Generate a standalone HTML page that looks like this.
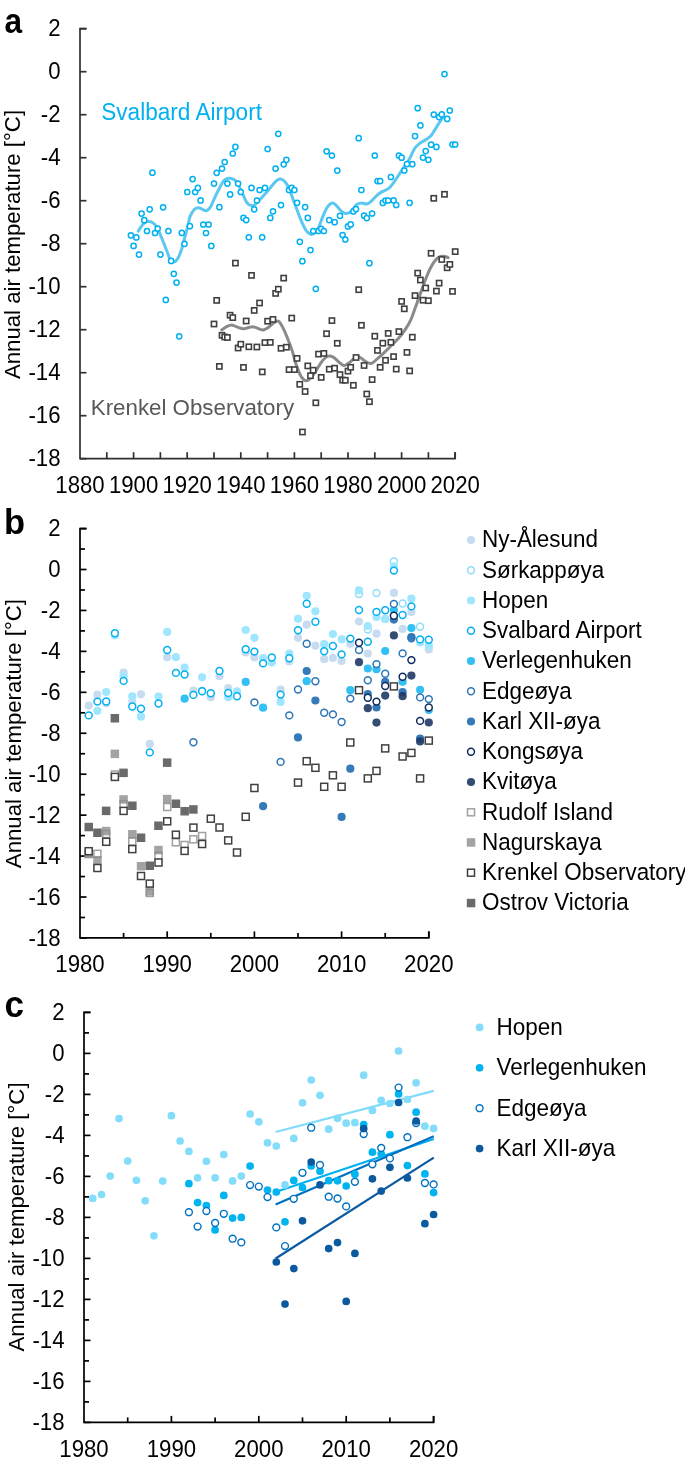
<!DOCTYPE html>
<html><head><meta charset="utf-8"><style>
html,body{margin:0;padding:0;background:#fff;width:685px;height:1463px;overflow:hidden}
</style></head><body>
<svg width="685" height="1463" viewBox="0 0 685 1463" style="display:block;will-change:transform">
<g font-family='"Liberation Sans", sans-serif' font-size="22.2" fill="#000">
<text transform="translate(4.4 33) scale(0.93 1.05)" font-weight="bold" font-size="34">a</text>
<text transform="translate(4.1 533.8) scale(1 1.04)" font-weight="bold" font-size="34.5">b</text>
<text transform="translate(4.4 1017.4) scale(1 1.04)" font-weight="bold" font-size="35">c</text>
<text transform="translate(19.9 244.5) rotate(-90)" text-anchor="middle">Annual air temperature [°C]</text>
<text transform="translate(20.5 733.6) rotate(-90)" text-anchor="middle">Annual air temperature [°C]</text>
<text transform="translate(24.2 1217) rotate(-90)" text-anchor="middle">Annual air temperature [°C]</text>
<path d="M86.5 28.7H80V458.7H455V452.2" fill="none" stroke="#303030" stroke-width="1.7"/>
<path d="M80 28.70H86.5" stroke="#303030" stroke-width="1.7"/>
<text transform="translate(60.5 36.30) scale(1 1.065)" text-anchor="end">2</text>
<path d="M80 71.70H86.5" stroke="#303030" stroke-width="1.7"/>
<text transform="translate(60.5 79.30) scale(1 1.065)" text-anchor="end">0</text>
<path d="M80 114.70H86.5" stroke="#303030" stroke-width="1.7"/>
<text transform="translate(60.5 122.30) scale(1 1.065)" text-anchor="end">-2</text>
<path d="M80 157.70H86.5" stroke="#303030" stroke-width="1.7"/>
<text transform="translate(60.5 165.30) scale(1 1.065)" text-anchor="end">-4</text>
<path d="M80 200.70H86.5" stroke="#303030" stroke-width="1.7"/>
<text transform="translate(60.5 208.30) scale(1 1.065)" text-anchor="end">-6</text>
<path d="M80 243.70H86.5" stroke="#303030" stroke-width="1.7"/>
<text transform="translate(60.5 251.30) scale(1 1.065)" text-anchor="end">-8</text>
<path d="M80 286.70H86.5" stroke="#303030" stroke-width="1.7"/>
<text transform="translate(60.5 294.30) scale(1 1.065)" text-anchor="end">-10</text>
<path d="M80 329.70H86.5" stroke="#303030" stroke-width="1.7"/>
<text transform="translate(60.5 337.30) scale(1 1.065)" text-anchor="end">-12</text>
<path d="M80 372.70H86.5" stroke="#303030" stroke-width="1.7"/>
<text transform="translate(60.5 380.30) scale(1 1.065)" text-anchor="end">-14</text>
<path d="M80 415.70H86.5" stroke="#303030" stroke-width="1.7"/>
<text transform="translate(60.5 423.30) scale(1 1.065)" text-anchor="end">-16</text>
<path d="M80 458.70H86.5" stroke="#303030" stroke-width="1.7"/>
<text transform="translate(60.5 466.30) scale(1 1.065)" text-anchor="end">-18</text>
<path d="M106.80 458.7V452.2" stroke="#303030" stroke-width="1.7"/>
<path d="M133.60 458.7V452.2" stroke="#303030" stroke-width="1.7"/>
<path d="M160.40 458.7V452.2" stroke="#303030" stroke-width="1.7"/>
<path d="M187.20 458.7V452.2" stroke="#303030" stroke-width="1.7"/>
<path d="M214.00 458.7V452.2" stroke="#303030" stroke-width="1.7"/>
<path d="M240.80 458.7V452.2" stroke="#303030" stroke-width="1.7"/>
<path d="M267.60 458.7V452.2" stroke="#303030" stroke-width="1.7"/>
<path d="M294.40 458.7V452.2" stroke="#303030" stroke-width="1.7"/>
<path d="M321.20 458.7V452.2" stroke="#303030" stroke-width="1.7"/>
<path d="M348.00 458.7V452.2" stroke="#303030" stroke-width="1.7"/>
<path d="M374.80 458.7V452.2" stroke="#303030" stroke-width="1.7"/>
<path d="M401.60 458.7V452.2" stroke="#303030" stroke-width="1.7"/>
<path d="M428.40 458.7V452.2" stroke="#303030" stroke-width="1.7"/>
<path d="M455.20 458.7V452.2" stroke="#303030" stroke-width="1.7"/>
<text transform="translate(80.00 493.4) scale(1 1.065)" text-anchor="middle">1880</text>
<text transform="translate(133.60 493.4) scale(1 1.065)" text-anchor="middle">1900</text>
<text transform="translate(187.20 493.4) scale(1 1.065)" text-anchor="middle">1920</text>
<text transform="translate(240.80 493.4) scale(1 1.065)" text-anchor="middle">1940</text>
<text transform="translate(294.40 493.4) scale(1 1.065)" text-anchor="middle">1960</text>
<text transform="translate(348.00 493.4) scale(1 1.065)" text-anchor="middle">1980</text>
<text transform="translate(401.60 493.4) scale(1 1.065)" text-anchor="middle">2000</text>
<text transform="translate(455.20 493.4) scale(1 1.065)" text-anchor="middle">2020</text>
<path d="M86.5 528.6H80V937.9H428.8V931.4" fill="none" stroke="#000" stroke-width="1.7"/>
<path d="M80 528.56H86.5" stroke="#000" stroke-width="1.7"/>
<text transform="translate(60.5 536.16) scale(1 1.065)" text-anchor="end">2</text>
<path d="M80 569.50H86.5" stroke="#000" stroke-width="1.7"/>
<text transform="translate(60.5 577.10) scale(1 1.065)" text-anchor="end">0</text>
<path d="M80 610.44H86.5" stroke="#000" stroke-width="1.7"/>
<text transform="translate(60.5 618.04) scale(1 1.065)" text-anchor="end">-2</text>
<path d="M80 651.38H86.5" stroke="#000" stroke-width="1.7"/>
<text transform="translate(60.5 658.98) scale(1 1.065)" text-anchor="end">-4</text>
<path d="M80 692.32H86.5" stroke="#000" stroke-width="1.7"/>
<text transform="translate(60.5 699.92) scale(1 1.065)" text-anchor="end">-6</text>
<path d="M80 733.26H86.5" stroke="#000" stroke-width="1.7"/>
<text transform="translate(60.5 740.86) scale(1 1.065)" text-anchor="end">-8</text>
<path d="M80 774.20H86.5" stroke="#000" stroke-width="1.7"/>
<text transform="translate(60.5 781.80) scale(1 1.065)" text-anchor="end">-10</text>
<path d="M80 815.14H86.5" stroke="#000" stroke-width="1.7"/>
<text transform="translate(60.5 822.74) scale(1 1.065)" text-anchor="end">-12</text>
<path d="M80 856.08H86.5" stroke="#000" stroke-width="1.7"/>
<text transform="translate(60.5 863.68) scale(1 1.065)" text-anchor="end">-14</text>
<path d="M80 897.02H86.5" stroke="#000" stroke-width="1.7"/>
<text transform="translate(60.5 904.62) scale(1 1.065)" text-anchor="end">-16</text>
<path d="M80 937.96H86.5" stroke="#000" stroke-width="1.7"/>
<text transform="translate(60.5 945.56) scale(1 1.065)" text-anchor="end">-18</text>
<path d="M80 549.03H85" stroke="#000" stroke-width="1.7"/>
<path d="M80 589.97H85" stroke="#000" stroke-width="1.7"/>
<path d="M80 630.91H85" stroke="#000" stroke-width="1.7"/>
<path d="M80 671.85H85" stroke="#000" stroke-width="1.7"/>
<path d="M80 712.79H85" stroke="#000" stroke-width="1.7"/>
<path d="M80 753.73H85" stroke="#000" stroke-width="1.7"/>
<path d="M80 794.67H85" stroke="#000" stroke-width="1.7"/>
<path d="M80 835.61H85" stroke="#000" stroke-width="1.7"/>
<path d="M80 876.55H85" stroke="#000" stroke-width="1.7"/>
<path d="M80 917.49H85" stroke="#000" stroke-width="1.7"/>
<path d="M167.20 937.9V931.4" stroke="#000" stroke-width="1.7"/>
<path d="M254.40 937.9V931.4" stroke="#000" stroke-width="1.7"/>
<path d="M341.60 937.9V931.4" stroke="#000" stroke-width="1.7"/>
<path d="M428.80 937.9V931.4" stroke="#000" stroke-width="1.7"/>
<path d="M123.60 937.9V932.9" stroke="#000" stroke-width="1.7"/>
<path d="M210.80 937.9V932.9" stroke="#000" stroke-width="1.7"/>
<path d="M298.00 937.9V932.9" stroke="#000" stroke-width="1.7"/>
<path d="M385.20 937.9V932.9" stroke="#000" stroke-width="1.7"/>
<text transform="translate(80.00 972.0) scale(1 1.065)" text-anchor="middle">1980</text>
<text transform="translate(167.20 972.0) scale(1 1.065)" text-anchor="middle">1990</text>
<text transform="translate(254.40 972.0) scale(1 1.065)" text-anchor="middle">2000</text>
<text transform="translate(341.60 972.0) scale(1 1.065)" text-anchor="middle">2010</text>
<text transform="translate(428.80 972.0) scale(1 1.065)" text-anchor="middle">2020</text>
<path d="M90.5 1012.4H84V1422.4H433.6V1415.9" fill="none" stroke="#000" stroke-width="1.7"/>
<path d="M84 1012.40H90.5" stroke="#000" stroke-width="1.7"/>
<text transform="translate(64.5 1020.00) scale(1 1.065)" text-anchor="end">2</text>
<path d="M84 1053.40H90.5" stroke="#000" stroke-width="1.7"/>
<text transform="translate(64.5 1061.00) scale(1 1.065)" text-anchor="end">0</text>
<path d="M84 1094.40H90.5" stroke="#000" stroke-width="1.7"/>
<text transform="translate(64.5 1102.00) scale(1 1.065)" text-anchor="end">-2</text>
<path d="M84 1135.40H90.5" stroke="#000" stroke-width="1.7"/>
<text transform="translate(64.5 1143.00) scale(1 1.065)" text-anchor="end">-4</text>
<path d="M84 1176.40H90.5" stroke="#000" stroke-width="1.7"/>
<text transform="translate(64.5 1184.00) scale(1 1.065)" text-anchor="end">-6</text>
<path d="M84 1217.40H90.5" stroke="#000" stroke-width="1.7"/>
<text transform="translate(64.5 1225.00) scale(1 1.065)" text-anchor="end">-8</text>
<path d="M84 1258.40H90.5" stroke="#000" stroke-width="1.7"/>
<text transform="translate(64.5 1266.00) scale(1 1.065)" text-anchor="end">-10</text>
<path d="M84 1299.40H90.5" stroke="#000" stroke-width="1.7"/>
<text transform="translate(64.5 1307.00) scale(1 1.065)" text-anchor="end">-12</text>
<path d="M84 1340.40H90.5" stroke="#000" stroke-width="1.7"/>
<text transform="translate(64.5 1348.00) scale(1 1.065)" text-anchor="end">-14</text>
<path d="M84 1381.40H90.5" stroke="#000" stroke-width="1.7"/>
<text transform="translate(64.5 1389.00) scale(1 1.065)" text-anchor="end">-16</text>
<path d="M84 1422.40H90.5" stroke="#000" stroke-width="1.7"/>
<text transform="translate(64.5 1430.00) scale(1 1.065)" text-anchor="end">-18</text>
<path d="M84 1032.90H89" stroke="#000" stroke-width="1.7"/>
<path d="M84 1073.90H89" stroke="#000" stroke-width="1.7"/>
<path d="M84 1114.90H89" stroke="#000" stroke-width="1.7"/>
<path d="M84 1155.90H89" stroke="#000" stroke-width="1.7"/>
<path d="M84 1196.90H89" stroke="#000" stroke-width="1.7"/>
<path d="M84 1237.90H89" stroke="#000" stroke-width="1.7"/>
<path d="M84 1278.90H89" stroke="#000" stroke-width="1.7"/>
<path d="M84 1319.90H89" stroke="#000" stroke-width="1.7"/>
<path d="M84 1360.90H89" stroke="#000" stroke-width="1.7"/>
<path d="M84 1401.90H89" stroke="#000" stroke-width="1.7"/>
<path d="M171.40 1422.4V1415.9" stroke="#000" stroke-width="1.7"/>
<path d="M258.80 1422.4V1415.9" stroke="#000" stroke-width="1.7"/>
<path d="M346.20 1422.4V1415.9" stroke="#000" stroke-width="1.7"/>
<path d="M433.60 1422.4V1415.9" stroke="#000" stroke-width="1.7"/>
<path d="M127.70 1422.4V1417.4" stroke="#000" stroke-width="1.7"/>
<path d="M215.10 1422.4V1417.4" stroke="#000" stroke-width="1.7"/>
<path d="M302.50 1422.4V1417.4" stroke="#000" stroke-width="1.7"/>
<path d="M389.90 1422.4V1417.4" stroke="#000" stroke-width="1.7"/>
<text transform="translate(84.00 1456.5) scale(1 1.065)" text-anchor="middle">1980</text>
<text transform="translate(171.40 1456.5) scale(1 1.065)" text-anchor="middle">1990</text>
<text transform="translate(258.80 1456.5) scale(1 1.065)" text-anchor="middle">2000</text>
<text transform="translate(346.20 1456.5) scale(1 1.065)" text-anchor="middle">2010</text>
<text transform="translate(433.60 1456.5) scale(1 1.065)" text-anchor="middle">2020</text>
<path d="M138.3 231.1C139.1 229.9 141.6 225.7 143.1 224.1C144.6 222.5 146.0 221.8 147.5 221.5C149.0 221.2 150.4 221.5 151.9 222.3C153.4 223.1 155.0 224.5 156.3 226.3C157.6 228.1 158.6 230.7 159.8 233.3C161.0 235.9 162.1 239.1 163.3 242.0C164.5 244.9 165.6 247.9 166.8 250.8C168.0 253.7 169.0 257.8 170.3 259.6C171.6 261.4 173.4 262.0 174.7 261.7C176.0 261.4 177.0 259.9 178.2 257.8C179.4 255.7 180.6 252.3 181.7 249.0C182.8 245.7 183.7 241.5 184.7 237.7C185.7 233.9 186.9 229.8 187.8 226.3C188.7 222.8 188.9 219.4 190.0 216.6C191.1 213.8 193.1 210.8 194.5 209.3C195.9 207.8 197.1 207.8 198.4 207.8C199.7 207.8 201.0 208.8 202.3 209.3C203.6 209.8 205.0 211.0 206.3 210.7C207.6 210.4 208.9 209.4 210.2 207.4C211.5 205.4 212.7 202.0 214.2 198.8C215.7 195.6 217.9 191.2 219.4 188.3C220.9 185.4 222.1 182.7 223.4 181.1C224.7 179.5 226.0 178.9 227.3 178.5C228.6 178.1 229.9 178.2 231.2 178.5C232.5 178.8 233.9 179.1 235.2 180.4C236.5 181.7 237.8 184.0 239.1 186.4C240.4 188.8 241.8 192.2 243.1 194.9C244.4 197.6 245.7 201.1 247.0 202.8C248.3 204.6 249.7 205.1 251.0 205.4C252.3 205.7 253.6 205.5 254.9 204.7C256.2 203.9 257.3 202.4 258.8 200.8C260.3 199.2 262.7 196.4 264.1 194.9C265.5 193.4 265.9 193.2 267.3 191.6C268.7 189.9 270.9 186.9 272.5 185.0C274.1 183.1 275.7 181.2 277.1 180.2C278.5 179.2 279.8 178.8 281.1 179.1C282.4 179.4 283.7 180.3 285.0 181.8C286.3 183.3 287.6 185.5 288.9 188.3C290.2 191.1 291.6 195.3 292.9 198.8C294.2 202.3 295.4 205.6 296.8 209.3C298.2 213.0 299.9 217.7 301.4 221.2C302.9 224.7 304.5 228.2 306.0 230.4C307.5 232.6 309.2 233.9 310.6 234.3C312.0 234.7 313.3 234.1 314.6 233.0C315.9 231.9 317.1 230.5 318.5 227.7C319.9 224.8 321.6 219.4 323.1 215.9C324.6 212.4 326.2 208.8 327.7 206.7C329.2 204.5 330.9 203.2 332.3 203.0C333.7 202.8 334.8 204.1 336.2 205.4C337.6 206.7 339.3 209.3 340.8 210.7C342.3 212.0 344.0 213.2 345.4 213.5C346.8 213.8 348.3 213.1 349.4 212.6C350.5 212.1 350.8 212.1 352.0 210.7C353.2 209.3 355.2 205.7 356.8 204.4C358.4 203.1 359.8 203.2 361.4 203.1C363.0 203.0 365.0 204.3 366.7 204.0C368.4 203.7 369.7 202.5 371.3 201.1C372.9 199.7 374.8 197.3 376.5 195.8C378.2 194.3 379.8 193.1 381.8 191.9C383.8 190.7 386.4 190.1 388.4 188.6C390.4 187.1 391.9 185.0 393.6 182.7C395.4 180.4 397.1 177.4 398.9 174.8C400.6 172.2 402.4 169.5 404.1 166.9C405.9 164.3 407.6 162.2 409.4 159.1C411.1 156.0 412.9 151.1 414.6 148.5C416.4 145.9 417.9 144.8 419.9 143.3C421.9 141.8 424.7 140.5 426.5 139.3C428.3 138.1 429.3 137.7 430.7 136.1C432.1 134.5 433.4 132.0 434.8 129.9C436.2 127.8 437.6 125.2 438.9 123.3C440.2 121.3 441.9 119.0 442.5 118.2" fill="none" stroke="#5CC8F0" stroke-width="3" stroke-linecap="round"/>
<path d="M221.7 329.9C222.5 329.4 224.7 327.7 226.3 326.9C227.9 326.1 229.8 324.9 231.5 324.9C233.2 324.9 234.8 326.2 236.8 326.9C238.8 327.5 241.4 328.7 243.4 328.8C245.4 328.9 246.8 327.8 248.6 327.5C250.3 327.2 252.2 326.7 253.9 326.9C255.7 327.1 257.6 328.3 259.1 328.8C260.6 329.3 261.6 330.1 263.1 329.9C264.6 329.7 266.7 328.6 268.3 327.5C269.9 326.4 271.4 324.7 272.9 323.6C274.4 322.5 276.3 321.1 277.5 321.0C278.7 320.9 279.0 321.4 280.1 322.9C281.2 324.4 282.9 327.6 284.1 330.1C285.3 332.6 286.1 334.7 287.4 338.0C288.7 341.3 290.4 345.3 291.9 349.9C293.4 354.5 294.9 361.0 296.5 365.6C298.1 370.2 299.9 374.9 301.7 377.4C303.4 379.9 305.2 380.9 307.0 380.7C308.8 380.5 310.4 378.2 312.2 376.1C313.9 374.0 315.8 370.8 317.5 368.2C319.2 365.6 320.9 362.4 322.7 360.4C324.4 358.4 326.2 356.8 328.0 356.2C329.8 355.6 331.4 356.2 333.2 357.1C334.9 358.0 336.7 360.3 338.5 361.7C340.3 363.1 342.1 365.4 343.8 365.6C345.6 365.8 347.2 364.2 349.0 363.0C350.8 361.8 352.6 359.4 354.3 358.4C356.1 357.4 357.8 356.7 359.5 357.1C361.2 357.5 362.9 359.9 364.8 361.0C366.8 362.1 369.1 363.9 371.2 363.5C373.3 363.1 375.3 360.6 377.5 358.7C379.7 356.8 382.1 354.6 384.4 352.4C386.7 350.2 389.1 347.8 391.4 345.5C393.7 343.2 396.0 341.2 398.3 338.6C400.6 336.0 403.1 332.7 405.2 329.6C407.3 326.5 409.2 323.4 410.8 319.9C412.4 316.4 413.6 312.3 414.9 308.8C416.2 305.3 417.2 302.4 418.4 299.1C419.6 295.9 420.6 292.8 421.9 289.3C423.2 285.8 424.6 281.7 426.0 278.2C427.4 274.7 428.8 271.3 430.2 268.5C431.6 265.7 432.9 263.5 434.3 261.6C435.7 259.8 437.0 258.3 438.5 257.4C440.0 256.5 441.8 256.3 443.4 256.3C445.0 256.3 447.4 257.4 448.2 257.6" fill="none" stroke="#8A8A8A" stroke-width="3" stroke-linecap="round"/>
<circle cx="130.9" cy="235.3" r="2.6" fill="#fff" stroke="#00B0F0" stroke-width="1.5"/>
<circle cx="133.6" cy="245.9" r="2.6" fill="#fff" stroke="#00B0F0" stroke-width="1.5"/>
<circle cx="136.3" cy="237.4" r="2.6" fill="#fff" stroke="#00B0F0" stroke-width="1.5"/>
<circle cx="139.0" cy="254.6" r="2.6" fill="#fff" stroke="#00B0F0" stroke-width="1.5"/>
<circle cx="141.6" cy="213.6" r="2.6" fill="#fff" stroke="#00B0F0" stroke-width="1.5"/>
<circle cx="144.3" cy="220.2" r="2.6" fill="#fff" stroke="#00B0F0" stroke-width="1.5"/>
<circle cx="147.0" cy="231.0" r="2.6" fill="#fff" stroke="#00B0F0" stroke-width="1.5"/>
<circle cx="149.7" cy="209.3" r="2.6" fill="#fff" stroke="#00B0F0" stroke-width="1.5"/>
<circle cx="152.4" cy="172.7" r="2.6" fill="#fff" stroke="#00B0F0" stroke-width="1.5"/>
<circle cx="155.0" cy="233.0" r="2.6" fill="#fff" stroke="#00B0F0" stroke-width="1.5"/>
<circle cx="157.7" cy="228.6" r="2.6" fill="#fff" stroke="#00B0F0" stroke-width="1.5"/>
<circle cx="160.4" cy="254.6" r="2.6" fill="#fff" stroke="#00B0F0" stroke-width="1.5"/>
<circle cx="163.1" cy="207.3" r="2.6" fill="#fff" stroke="#00B0F0" stroke-width="1.5"/>
<circle cx="165.8" cy="299.9" r="2.6" fill="#fff" stroke="#00B0F0" stroke-width="1.5"/>
<circle cx="168.4" cy="231.0" r="2.6" fill="#fff" stroke="#00B0F0" stroke-width="1.5"/>
<circle cx="171.1" cy="260.9" r="2.6" fill="#fff" stroke="#00B0F0" stroke-width="1.5"/>
<circle cx="173.8" cy="273.8" r="2.6" fill="#fff" stroke="#00B0F0" stroke-width="1.5"/>
<circle cx="176.5" cy="282.5" r="2.6" fill="#fff" stroke="#00B0F0" stroke-width="1.5"/>
<circle cx="179.2" cy="336.3" r="2.6" fill="#fff" stroke="#00B0F0" stroke-width="1.5"/>
<circle cx="181.8" cy="232.9" r="2.6" fill="#fff" stroke="#00B0F0" stroke-width="1.5"/>
<circle cx="184.5" cy="243.8" r="2.6" fill="#fff" stroke="#00B0F0" stroke-width="1.5"/>
<circle cx="187.2" cy="192.0" r="2.6" fill="#fff" stroke="#00B0F0" stroke-width="1.5"/>
<circle cx="189.9" cy="226.2" r="2.6" fill="#fff" stroke="#00B0F0" stroke-width="1.5"/>
<circle cx="192.6" cy="179.1" r="2.6" fill="#fff" stroke="#00B0F0" stroke-width="1.5"/>
<circle cx="195.2" cy="192.0" r="2.6" fill="#fff" stroke="#00B0F0" stroke-width="1.5"/>
<circle cx="197.9" cy="187.9" r="2.6" fill="#fff" stroke="#00B0F0" stroke-width="1.5"/>
<circle cx="200.6" cy="200.4" r="2.6" fill="#fff" stroke="#00B0F0" stroke-width="1.5"/>
<circle cx="203.3" cy="224.5" r="2.6" fill="#fff" stroke="#00B0F0" stroke-width="1.5"/>
<circle cx="206.0" cy="233.0" r="2.6" fill="#fff" stroke="#00B0F0" stroke-width="1.5"/>
<circle cx="208.6" cy="224.5" r="2.6" fill="#fff" stroke="#00B0F0" stroke-width="1.5"/>
<circle cx="211.3" cy="245.9" r="2.6" fill="#fff" stroke="#00B0F0" stroke-width="1.5"/>
<circle cx="214.0" cy="183.6" r="2.6" fill="#fff" stroke="#00B0F0" stroke-width="1.5"/>
<circle cx="216.7" cy="172.8" r="2.6" fill="#fff" stroke="#00B0F0" stroke-width="1.5"/>
<circle cx="219.4" cy="207.2" r="2.6" fill="#fff" stroke="#00B0F0" stroke-width="1.5"/>
<circle cx="222.0" cy="168.6" r="2.6" fill="#fff" stroke="#00B0F0" stroke-width="1.5"/>
<circle cx="224.7" cy="162.0" r="2.6" fill="#fff" stroke="#00B0F0" stroke-width="1.5"/>
<circle cx="227.4" cy="183.6" r="2.6" fill="#fff" stroke="#00B0F0" stroke-width="1.5"/>
<circle cx="230.1" cy="194.4" r="2.6" fill="#fff" stroke="#00B0F0" stroke-width="1.5"/>
<circle cx="232.8" cy="153.5" r="2.6" fill="#fff" stroke="#00B0F0" stroke-width="1.5"/>
<circle cx="235.4" cy="146.9" r="2.6" fill="#fff" stroke="#00B0F0" stroke-width="1.5"/>
<circle cx="238.1" cy="183.6" r="2.6" fill="#fff" stroke="#00B0F0" stroke-width="1.5"/>
<circle cx="240.8" cy="192.0" r="2.6" fill="#fff" stroke="#00B0F0" stroke-width="1.5"/>
<circle cx="243.5" cy="217.9" r="2.6" fill="#fff" stroke="#00B0F0" stroke-width="1.5"/>
<circle cx="246.2" cy="220.1" r="2.6" fill="#fff" stroke="#00B0F0" stroke-width="1.5"/>
<circle cx="248.8" cy="237.3" r="2.6" fill="#fff" stroke="#00B0F0" stroke-width="1.5"/>
<circle cx="251.5" cy="187.9" r="2.6" fill="#fff" stroke="#00B0F0" stroke-width="1.5"/>
<circle cx="254.2" cy="209.3" r="2.6" fill="#fff" stroke="#00B0F0" stroke-width="1.5"/>
<circle cx="256.9" cy="200.5" r="2.6" fill="#fff" stroke="#00B0F0" stroke-width="1.5"/>
<circle cx="259.6" cy="190.0" r="2.6" fill="#fff" stroke="#00B0F0" stroke-width="1.5"/>
<circle cx="262.2" cy="237.3" r="2.6" fill="#fff" stroke="#00B0F0" stroke-width="1.5"/>
<circle cx="264.9" cy="187.9" r="2.6" fill="#fff" stroke="#00B0F0" stroke-width="1.5"/>
<circle cx="267.6" cy="149.0" r="2.6" fill="#fff" stroke="#00B0F0" stroke-width="1.5"/>
<circle cx="270.3" cy="217.9" r="2.6" fill="#fff" stroke="#00B0F0" stroke-width="1.5"/>
<circle cx="273.0" cy="211.3" r="2.6" fill="#fff" stroke="#00B0F0" stroke-width="1.5"/>
<circle cx="275.6" cy="168.6" r="2.6" fill="#fff" stroke="#00B0F0" stroke-width="1.5"/>
<circle cx="278.3" cy="133.8" r="2.6" fill="#fff" stroke="#00B0F0" stroke-width="1.5"/>
<circle cx="281.0" cy="205.1" r="2.6" fill="#fff" stroke="#00B0F0" stroke-width="1.5"/>
<circle cx="283.7" cy="164.3" r="2.6" fill="#fff" stroke="#00B0F0" stroke-width="1.5"/>
<circle cx="286.4" cy="159.8" r="2.6" fill="#fff" stroke="#00B0F0" stroke-width="1.5"/>
<circle cx="289.0" cy="190.0" r="2.6" fill="#fff" stroke="#00B0F0" stroke-width="1.5"/>
<circle cx="291.7" cy="187.9" r="2.6" fill="#fff" stroke="#00B0F0" stroke-width="1.5"/>
<circle cx="294.4" cy="190.0" r="2.6" fill="#fff" stroke="#00B0F0" stroke-width="1.5"/>
<circle cx="297.1" cy="202.8" r="2.6" fill="#fff" stroke="#00B0F0" stroke-width="1.5"/>
<circle cx="299.8" cy="241.8" r="2.6" fill="#fff" stroke="#00B0F0" stroke-width="1.5"/>
<circle cx="302.4" cy="261.2" r="2.6" fill="#fff" stroke="#00B0F0" stroke-width="1.5"/>
<circle cx="305.1" cy="207.1" r="2.6" fill="#fff" stroke="#00B0F0" stroke-width="1.5"/>
<circle cx="307.8" cy="217.9" r="2.6" fill="#fff" stroke="#00B0F0" stroke-width="1.5"/>
<circle cx="310.5" cy="250.1" r="2.6" fill="#fff" stroke="#00B0F0" stroke-width="1.5"/>
<circle cx="313.2" cy="231.0" r="2.6" fill="#fff" stroke="#00B0F0" stroke-width="1.5"/>
<circle cx="315.8" cy="288.8" r="2.6" fill="#fff" stroke="#00B0F0" stroke-width="1.5"/>
<circle cx="318.5" cy="231.0" r="2.6" fill="#fff" stroke="#00B0F0" stroke-width="1.5"/>
<circle cx="321.2" cy="228.8" r="2.6" fill="#fff" stroke="#00B0F0" stroke-width="1.5"/>
<circle cx="323.9" cy="231.0" r="2.6" fill="#fff" stroke="#00B0F0" stroke-width="1.5"/>
<circle cx="326.6" cy="151.3" r="2.6" fill="#fff" stroke="#00B0F0" stroke-width="1.5"/>
<circle cx="329.2" cy="220.1" r="2.6" fill="#fff" stroke="#00B0F0" stroke-width="1.5"/>
<circle cx="331.9" cy="155.5" r="2.6" fill="#fff" stroke="#00B0F0" stroke-width="1.5"/>
<circle cx="334.6" cy="222.2" r="2.6" fill="#fff" stroke="#00B0F0" stroke-width="1.5"/>
<circle cx="337.3" cy="170.6" r="2.6" fill="#fff" stroke="#00B0F0" stroke-width="1.5"/>
<circle cx="340.0" cy="215.8" r="2.6" fill="#fff" stroke="#00B0F0" stroke-width="1.5"/>
<circle cx="342.6" cy="235.0" r="2.6" fill="#fff" stroke="#00B0F0" stroke-width="1.5"/>
<circle cx="345.3" cy="239.5" r="2.6" fill="#fff" stroke="#00B0F0" stroke-width="1.5"/>
<circle cx="348.0" cy="226.4" r="2.6" fill="#fff" stroke="#00B0F0" stroke-width="1.5"/>
<circle cx="350.7" cy="224.4" r="2.6" fill="#fff" stroke="#00B0F0" stroke-width="1.5"/>
<circle cx="353.4" cy="211.4" r="2.6" fill="#fff" stroke="#00B0F0" stroke-width="1.5"/>
<circle cx="356.0" cy="209.1" r="2.6" fill="#fff" stroke="#00B0F0" stroke-width="1.5"/>
<circle cx="358.7" cy="138.2" r="2.6" fill="#fff" stroke="#00B0F0" stroke-width="1.5"/>
<circle cx="361.4" cy="190.0" r="2.6" fill="#fff" stroke="#00B0F0" stroke-width="1.5"/>
<circle cx="364.1" cy="215.7" r="2.6" fill="#fff" stroke="#00B0F0" stroke-width="1.5"/>
<circle cx="366.8" cy="218.1" r="2.6" fill="#fff" stroke="#00B0F0" stroke-width="1.5"/>
<circle cx="369.4" cy="263.2" r="2.6" fill="#fff" stroke="#00B0F0" stroke-width="1.5"/>
<circle cx="372.1" cy="213.5" r="2.6" fill="#fff" stroke="#00B0F0" stroke-width="1.5"/>
<circle cx="374.8" cy="155.5" r="2.6" fill="#fff" stroke="#00B0F0" stroke-width="1.5"/>
<circle cx="377.5" cy="181.1" r="2.6" fill="#fff" stroke="#00B0F0" stroke-width="1.5"/>
<circle cx="380.2" cy="181.1" r="2.6" fill="#fff" stroke="#00B0F0" stroke-width="1.5"/>
<circle cx="382.8" cy="202.9" r="2.6" fill="#fff" stroke="#00B0F0" stroke-width="1.5"/>
<circle cx="385.5" cy="200.5" r="2.6" fill="#fff" stroke="#00B0F0" stroke-width="1.5"/>
<circle cx="388.2" cy="200.5" r="2.6" fill="#fff" stroke="#00B0F0" stroke-width="1.5"/>
<circle cx="390.9" cy="177.0" r="2.6" fill="#fff" stroke="#00B0F0" stroke-width="1.5"/>
<circle cx="393.6" cy="200.4" r="2.6" fill="#fff" stroke="#00B0F0" stroke-width="1.5"/>
<circle cx="396.2" cy="205.0" r="2.6" fill="#fff" stroke="#00B0F0" stroke-width="1.5"/>
<circle cx="398.9" cy="155.5" r="2.6" fill="#fff" stroke="#00B0F0" stroke-width="1.5"/>
<circle cx="401.6" cy="157.7" r="2.6" fill="#fff" stroke="#00B0F0" stroke-width="1.5"/>
<circle cx="404.3" cy="170.5" r="2.6" fill="#fff" stroke="#00B0F0" stroke-width="1.5"/>
<circle cx="407.0" cy="164.1" r="2.6" fill="#fff" stroke="#00B0F0" stroke-width="1.5"/>
<circle cx="409.6" cy="202.8" r="2.6" fill="#fff" stroke="#00B0F0" stroke-width="1.5"/>
<circle cx="412.3" cy="164.2" r="2.6" fill="#fff" stroke="#00B0F0" stroke-width="1.5"/>
<circle cx="415.0" cy="136.1" r="2.6" fill="#fff" stroke="#00B0F0" stroke-width="1.5"/>
<circle cx="417.7" cy="108.2" r="2.6" fill="#fff" stroke="#00B0F0" stroke-width="1.5"/>
<circle cx="420.4" cy="125.4" r="2.6" fill="#fff" stroke="#00B0F0" stroke-width="1.5"/>
<circle cx="423.0" cy="157.6" r="2.6" fill="#fff" stroke="#00B0F0" stroke-width="1.5"/>
<circle cx="425.7" cy="151.1" r="2.6" fill="#fff" stroke="#00B0F0" stroke-width="1.5"/>
<circle cx="428.4" cy="159.8" r="2.6" fill="#fff" stroke="#00B0F0" stroke-width="1.5"/>
<circle cx="431.1" cy="144.7" r="2.6" fill="#fff" stroke="#00B0F0" stroke-width="1.5"/>
<circle cx="433.8" cy="114.6" r="2.6" fill="#fff" stroke="#00B0F0" stroke-width="1.5"/>
<circle cx="436.4" cy="146.9" r="2.6" fill="#fff" stroke="#00B0F0" stroke-width="1.5"/>
<circle cx="439.1" cy="117.1" r="2.6" fill="#fff" stroke="#00B0F0" stroke-width="1.5"/>
<circle cx="441.8" cy="114.4" r="2.6" fill="#fff" stroke="#00B0F0" stroke-width="1.5"/>
<circle cx="444.5" cy="74.1" r="2.6" fill="#fff" stroke="#00B0F0" stroke-width="1.5"/>
<circle cx="447.2" cy="118.9" r="2.6" fill="#fff" stroke="#00B0F0" stroke-width="1.5"/>
<circle cx="449.8" cy="110.5" r="2.6" fill="#fff" stroke="#00B0F0" stroke-width="1.5"/>
<circle cx="452.5" cy="144.5" r="2.6" fill="#fff" stroke="#00B0F0" stroke-width="1.5"/>
<circle cx="455.2" cy="144.5" r="2.6" fill="#fff" stroke="#00B0F0" stroke-width="1.5"/>
<rect x="211.40" y="321.40" width="5.2" height="5.2" fill="#fff" stroke="#404040" stroke-width="1.6"/>
<rect x="214.08" y="297.80" width="5.2" height="5.2" fill="#fff" stroke="#404040" stroke-width="1.6"/>
<rect x="216.76" y="363.80" width="5.2" height="5.2" fill="#fff" stroke="#404040" stroke-width="1.6"/>
<rect x="219.44" y="332.70" width="5.2" height="5.2" fill="#fff" stroke="#404040" stroke-width="1.6"/>
<rect x="222.12" y="334.40" width="5.2" height="5.2" fill="#fff" stroke="#404040" stroke-width="1.6"/>
<rect x="224.80" y="334.90" width="5.2" height="5.2" fill="#fff" stroke="#404040" stroke-width="1.6"/>
<rect x="227.48" y="312.60" width="5.2" height="5.2" fill="#fff" stroke="#404040" stroke-width="1.6"/>
<rect x="230.16" y="315.00" width="5.2" height="5.2" fill="#fff" stroke="#404040" stroke-width="1.6"/>
<rect x="232.84" y="260.50" width="5.2" height="5.2" fill="#fff" stroke="#404040" stroke-width="1.6"/>
<rect x="235.52" y="345.40" width="5.2" height="5.2" fill="#fff" stroke="#404040" stroke-width="1.6"/>
<rect x="238.20" y="341.60" width="5.2" height="5.2" fill="#fff" stroke="#404040" stroke-width="1.6"/>
<rect x="240.88" y="364.80" width="5.2" height="5.2" fill="#fff" stroke="#404040" stroke-width="1.6"/>
<rect x="243.56" y="318.40" width="5.2" height="5.2" fill="#fff" stroke="#404040" stroke-width="1.6"/>
<rect x="246.24" y="344.20" width="5.2" height="5.2" fill="#fff" stroke="#404040" stroke-width="1.6"/>
<rect x="248.92" y="272.80" width="5.2" height="5.2" fill="#fff" stroke="#404040" stroke-width="1.6"/>
<rect x="251.60" y="307.80" width="5.2" height="5.2" fill="#fff" stroke="#404040" stroke-width="1.6"/>
<rect x="254.28" y="344.40" width="5.2" height="5.2" fill="#fff" stroke="#404040" stroke-width="1.6"/>
<rect x="256.96" y="300.40" width="5.2" height="5.2" fill="#fff" stroke="#404040" stroke-width="1.6"/>
<rect x="259.64" y="369.30" width="5.2" height="5.2" fill="#fff" stroke="#404040" stroke-width="1.6"/>
<rect x="262.32" y="340.00" width="5.2" height="5.2" fill="#fff" stroke="#404040" stroke-width="1.6"/>
<rect x="265.00" y="318.60" width="5.2" height="5.2" fill="#fff" stroke="#404040" stroke-width="1.6"/>
<rect x="267.68" y="339.80" width="5.2" height="5.2" fill="#fff" stroke="#404040" stroke-width="1.6"/>
<rect x="270.36" y="316.80" width="5.2" height="5.2" fill="#fff" stroke="#404040" stroke-width="1.6"/>
<rect x="273.04" y="290.80" width="5.2" height="5.2" fill="#fff" stroke="#404040" stroke-width="1.6"/>
<rect x="275.72" y="286.60" width="5.2" height="5.2" fill="#fff" stroke="#404040" stroke-width="1.6"/>
<rect x="278.40" y="345.70" width="5.2" height="5.2" fill="#fff" stroke="#404040" stroke-width="1.6"/>
<rect x="281.08" y="275.50" width="5.2" height="5.2" fill="#fff" stroke="#404040" stroke-width="1.6"/>
<rect x="283.76" y="344.60" width="5.2" height="5.2" fill="#fff" stroke="#404040" stroke-width="1.6"/>
<rect x="286.44" y="367.00" width="5.2" height="5.2" fill="#fff" stroke="#404040" stroke-width="1.6"/>
<rect x="289.12" y="315.50" width="5.2" height="5.2" fill="#fff" stroke="#404040" stroke-width="1.6"/>
<rect x="291.80" y="367.00" width="5.2" height="5.2" fill="#fff" stroke="#404040" stroke-width="1.6"/>
<rect x="294.48" y="355.80" width="5.2" height="5.2" fill="#fff" stroke="#404040" stroke-width="1.6"/>
<rect x="297.16" y="381.70" width="5.2" height="5.2" fill="#fff" stroke="#404040" stroke-width="1.6"/>
<rect x="299.84" y="429.40" width="5.2" height="5.2" fill="#fff" stroke="#404040" stroke-width="1.6"/>
<rect x="302.52" y="388.90" width="5.2" height="5.2" fill="#fff" stroke="#404040" stroke-width="1.6"/>
<rect x="305.20" y="363.30" width="5.2" height="5.2" fill="#fff" stroke="#404040" stroke-width="1.6"/>
<rect x="307.88" y="373.10" width="5.2" height="5.2" fill="#fff" stroke="#404040" stroke-width="1.6"/>
<rect x="310.56" y="367.60" width="5.2" height="5.2" fill="#fff" stroke="#404040" stroke-width="1.6"/>
<rect x="313.24" y="400.20" width="5.2" height="5.2" fill="#fff" stroke="#404040" stroke-width="1.6"/>
<rect x="315.92" y="351.50" width="5.2" height="5.2" fill="#fff" stroke="#404040" stroke-width="1.6"/>
<rect x="318.60" y="374.80" width="5.2" height="5.2" fill="#fff" stroke="#404040" stroke-width="1.6"/>
<rect x="321.28" y="350.80" width="5.2" height="5.2" fill="#fff" stroke="#404040" stroke-width="1.6"/>
<rect x="323.96" y="331.10" width="5.2" height="5.2" fill="#fff" stroke="#404040" stroke-width="1.6"/>
<rect x="326.64" y="366.60" width="5.2" height="5.2" fill="#fff" stroke="#404040" stroke-width="1.6"/>
<rect x="329.32" y="318.00" width="5.2" height="5.2" fill="#fff" stroke="#404040" stroke-width="1.6"/>
<rect x="332.00" y="365.60" width="5.2" height="5.2" fill="#fff" stroke="#404040" stroke-width="1.6"/>
<rect x="334.68" y="340.70" width="5.2" height="5.2" fill="#fff" stroke="#404040" stroke-width="1.6"/>
<rect x="337.36" y="372.00" width="5.2" height="5.2" fill="#fff" stroke="#404040" stroke-width="1.6"/>
<rect x="340.04" y="377.50" width="5.2" height="5.2" fill="#fff" stroke="#404040" stroke-width="1.6"/>
<rect x="342.72" y="377.70" width="5.2" height="5.2" fill="#fff" stroke="#404040" stroke-width="1.6"/>
<rect x="345.40" y="368.50" width="5.2" height="5.2" fill="#fff" stroke="#404040" stroke-width="1.6"/>
<rect x="348.08" y="364.70" width="5.2" height="5.2" fill="#fff" stroke="#404040" stroke-width="1.6"/>
<rect x="350.76" y="382.70" width="5.2" height="5.2" fill="#fff" stroke="#404040" stroke-width="1.6"/>
<rect x="353.44" y="354.90" width="5.2" height="5.2" fill="#fff" stroke="#404040" stroke-width="1.6"/>
<rect x="356.12" y="287.10" width="5.2" height="5.2" fill="#fff" stroke="#404040" stroke-width="1.6"/>
<rect x="358.80" y="322.70" width="5.2" height="5.2" fill="#fff" stroke="#404040" stroke-width="1.6"/>
<rect x="361.48" y="362.90" width="5.2" height="5.2" fill="#fff" stroke="#404040" stroke-width="1.6"/>
<rect x="364.16" y="391.40" width="5.2" height="5.2" fill="#fff" stroke="#404040" stroke-width="1.6"/>
<rect x="366.84" y="399.10" width="5.2" height="5.2" fill="#fff" stroke="#404040" stroke-width="1.6"/>
<rect x="369.52" y="377.00" width="5.2" height="5.2" fill="#fff" stroke="#404040" stroke-width="1.6"/>
<rect x="372.20" y="333.60" width="5.2" height="5.2" fill="#fff" stroke="#404040" stroke-width="1.6"/>
<rect x="374.88" y="347.80" width="5.2" height="5.2" fill="#fff" stroke="#404040" stroke-width="1.6"/>
<rect x="377.56" y="364.70" width="5.2" height="5.2" fill="#fff" stroke="#404040" stroke-width="1.6"/>
<rect x="380.24" y="340.60" width="5.2" height="5.2" fill="#fff" stroke="#404040" stroke-width="1.6"/>
<rect x="382.92" y="357.70" width="5.2" height="5.2" fill="#fff" stroke="#404040" stroke-width="1.6"/>
<rect x="385.60" y="330.80" width="5.2" height="5.2" fill="#fff" stroke="#404040" stroke-width="1.6"/>
<rect x="388.28" y="339.70" width="5.2" height="5.2" fill="#fff" stroke="#404040" stroke-width="1.6"/>
<rect x="390.96" y="354.00" width="5.2" height="5.2" fill="#fff" stroke="#404040" stroke-width="1.6"/>
<rect x="393.64" y="366.50" width="5.2" height="5.2" fill="#fff" stroke="#404040" stroke-width="1.6"/>
<rect x="396.32" y="329.00" width="5.2" height="5.2" fill="#fff" stroke="#404040" stroke-width="1.6"/>
<rect x="399.00" y="298.80" width="5.2" height="5.2" fill="#fff" stroke="#404040" stroke-width="1.6"/>
<rect x="401.68" y="306.20" width="5.2" height="5.2" fill="#fff" stroke="#404040" stroke-width="1.6"/>
<rect x="404.36" y="349.80" width="5.2" height="5.2" fill="#fff" stroke="#404040" stroke-width="1.6"/>
<rect x="407.04" y="368.30" width="5.2" height="5.2" fill="#fff" stroke="#404040" stroke-width="1.6"/>
<rect x="409.72" y="334.60" width="5.2" height="5.2" fill="#fff" stroke="#404040" stroke-width="1.6"/>
<rect x="412.40" y="293.00" width="5.2" height="5.2" fill="#fff" stroke="#404040" stroke-width="1.6"/>
<rect x="415.08" y="270.50" width="5.2" height="5.2" fill="#fff" stroke="#404040" stroke-width="1.6"/>
<rect x="417.76" y="277.40" width="5.2" height="5.2" fill="#fff" stroke="#404040" stroke-width="1.6"/>
<rect x="420.44" y="297.60" width="5.2" height="5.2" fill="#fff" stroke="#404040" stroke-width="1.6"/>
<rect x="423.12" y="285.40" width="5.2" height="5.2" fill="#fff" stroke="#404040" stroke-width="1.6"/>
<rect x="425.80" y="298.10" width="5.2" height="5.2" fill="#fff" stroke="#404040" stroke-width="1.6"/>
<rect x="428.48" y="250.70" width="5.2" height="5.2" fill="#fff" stroke="#404040" stroke-width="1.6"/>
<rect x="431.16" y="195.70" width="5.2" height="5.2" fill="#fff" stroke="#404040" stroke-width="1.6"/>
<rect x="433.84" y="288.50" width="5.2" height="5.2" fill="#fff" stroke="#404040" stroke-width="1.6"/>
<rect x="436.52" y="280.50" width="5.2" height="5.2" fill="#fff" stroke="#404040" stroke-width="1.6"/>
<rect x="439.20" y="256.90" width="5.2" height="5.2" fill="#fff" stroke="#404040" stroke-width="1.6"/>
<rect x="441.88" y="191.70" width="5.2" height="5.2" fill="#fff" stroke="#404040" stroke-width="1.6"/>
<rect x="444.56" y="265.20" width="5.2" height="5.2" fill="#fff" stroke="#404040" stroke-width="1.6"/>
<rect x="447.24" y="261.80" width="5.2" height="5.2" fill="#fff" stroke="#404040" stroke-width="1.6"/>
<rect x="449.92" y="288.80" width="5.2" height="5.2" fill="#fff" stroke="#404040" stroke-width="1.6"/>
<rect x="452.60" y="249.00" width="5.2" height="5.2" fill="#fff" stroke="#404040" stroke-width="1.6"/>
<circle cx="88.7" cy="705.6" r="4.1" fill="#C7DCF0"/>
<circle cx="97.4" cy="694.7" r="4.1" fill="#C7DCF0"/>
<circle cx="106.2" cy="703.2" r="4.1" fill="#C7DCF0"/>
<circle cx="123.6" cy="672.6" r="4.1" fill="#C7DCF0"/>
<circle cx="132.3" cy="701.9" r="4.1" fill="#C7DCF0"/>
<circle cx="141.0" cy="694.3" r="4.1" fill="#C7DCF0"/>
<circle cx="149.8" cy="743.9" r="4.1" fill="#C7DCF0"/>
<circle cx="167.2" cy="657.2" r="4.1" fill="#C7DCF0"/>
<circle cx="193.4" cy="690.7" r="4.1" fill="#C7DCF0"/>
<circle cx="202.1" cy="690.5" r="4.1" fill="#C7DCF0"/>
<circle cx="210.8" cy="697.2" r="4.1" fill="#C7DCF0"/>
<circle cx="219.5" cy="676.2" r="4.1" fill="#C7DCF0"/>
<circle cx="228.2" cy="688.0" r="4.1" fill="#C7DCF0"/>
<circle cx="245.7" cy="652.5" r="4.1" fill="#C7DCF0"/>
<circle cx="254.4" cy="657.5" r="4.1" fill="#C7DCF0"/>
<circle cx="263.1" cy="663.0" r="4.1" fill="#C7DCF0"/>
<circle cx="280.6" cy="689.7" r="4.1" fill="#C7DCF0"/>
<circle cx="289.3" cy="661.5" r="4.1" fill="#C7DCF0"/>
<circle cx="298.0" cy="637.8" r="4.1" fill="#C7DCF0"/>
<circle cx="306.7" cy="624.7" r="4.1" fill="#C7DCF0"/>
<circle cx="315.4" cy="645.7" r="4.1" fill="#C7DCF0"/>
<circle cx="324.2" cy="659.2" r="4.1" fill="#C7DCF0"/>
<circle cx="332.9" cy="658.0" r="4.1" fill="#C7DCF0"/>
<circle cx="341.6" cy="661.0" r="4.1" fill="#C7DCF0"/>
<circle cx="350.3" cy="643.7" r="4.1" fill="#C7DCF0"/>
<circle cx="359.0" cy="621.6" r="4.1" fill="#C7DCF0"/>
<circle cx="367.8" cy="653.5" r="4.1" fill="#C7DCF0"/>
<circle cx="376.5" cy="633.7" r="4.1" fill="#C7DCF0"/>
<circle cx="385.2" cy="619.0" r="4.1" fill="#C7DCF0"/>
<circle cx="393.9" cy="592.9" r="4.1" fill="#C7DCF0"/>
<circle cx="402.6" cy="628.9" r="4.1" fill="#C7DCF0"/>
<circle cx="411.4" cy="612.1" r="4.1" fill="#C7DCF0"/>
<circle cx="428.8" cy="649.4" r="4.1" fill="#C7DCF0"/>
<circle cx="359.0" cy="594.0" r="3.45" fill="#fff" stroke="#8EDDFA" stroke-width="1.5"/>
<circle cx="367.8" cy="629.6" r="3.45" fill="#fff" stroke="#8EDDFA" stroke-width="1.5"/>
<circle cx="376.5" cy="593.0" r="3.45" fill="#fff" stroke="#8EDDFA" stroke-width="1.5"/>
<circle cx="393.9" cy="561.5" r="3.45" fill="#fff" stroke="#8EDDFA" stroke-width="1.5"/>
<circle cx="402.6" cy="603.5" r="3.45" fill="#fff" stroke="#8EDDFA" stroke-width="1.5"/>
<circle cx="420.1" cy="626.7" r="3.45" fill="#fff" stroke="#8EDDFA" stroke-width="1.5"/>
<circle cx="97.4" cy="710.8" r="4.1" fill="#A0E6FE"/>
<circle cx="106.2" cy="692.0" r="4.1" fill="#A0E6FE"/>
<circle cx="114.9" cy="635.5" r="4.1" fill="#A0E6FE"/>
<circle cx="123.6" cy="676.3" r="4.1" fill="#A0E6FE"/>
<circle cx="132.3" cy="696.3" r="4.1" fill="#A0E6FE"/>
<circle cx="141.0" cy="716.7" r="4.1" fill="#A0E6FE"/>
<circle cx="158.5" cy="696.6" r="4.1" fill="#A0E6FE"/>
<circle cx="167.2" cy="631.9" r="4.1" fill="#A0E6FE"/>
<circle cx="175.9" cy="657.2" r="4.1" fill="#A0E6FE"/>
<circle cx="184.6" cy="667.7" r="4.1" fill="#A0E6FE"/>
<circle cx="202.1" cy="677.3" r="4.1" fill="#A0E6FE"/>
<circle cx="228.2" cy="697.2" r="4.1" fill="#A0E6FE"/>
<circle cx="237.0" cy="691.3" r="4.1" fill="#A0E6FE"/>
<circle cx="245.7" cy="630.0" r="4.1" fill="#A0E6FE"/>
<circle cx="254.4" cy="637.8" r="4.1" fill="#A0E6FE"/>
<circle cx="263.1" cy="658.2" r="4.1" fill="#A0E6FE"/>
<circle cx="271.8" cy="662.5" r="4.1" fill="#A0E6FE"/>
<circle cx="280.6" cy="701.9" r="4.1" fill="#A0E6FE"/>
<circle cx="289.3" cy="653.6" r="4.1" fill="#A0E6FE"/>
<circle cx="298.0" cy="618.8" r="4.1" fill="#A0E6FE"/>
<circle cx="306.7" cy="595.8" r="4.1" fill="#A0E6FE"/>
<circle cx="315.4" cy="611.3" r="4.1" fill="#A0E6FE"/>
<circle cx="324.2" cy="644.2" r="4.1" fill="#A0E6FE"/>
<circle cx="332.9" cy="634.0" r="4.1" fill="#A0E6FE"/>
<circle cx="341.6" cy="639.4" r="4.1" fill="#A0E6FE"/>
<circle cx="359.0" cy="590.3" r="4.1" fill="#A0E6FE"/>
<circle cx="367.8" cy="626.0" r="4.1" fill="#A0E6FE"/>
<circle cx="376.5" cy="617.0" r="4.1" fill="#A0E6FE"/>
<circle cx="385.2" cy="619.1" r="4.1" fill="#A0E6FE"/>
<circle cx="393.9" cy="566.3" r="4.1" fill="#A0E6FE"/>
<circle cx="411.4" cy="598.6" r="4.1" fill="#A0E6FE"/>
<circle cx="420.1" cy="642.5" r="4.1" fill="#A0E6FE"/>
<circle cx="428.8" cy="645.7" r="4.1" fill="#A0E6FE"/>
<circle cx="88.7" cy="715.4" r="3.45" fill="#fff" stroke="#00B0F0" stroke-width="1.5"/>
<circle cx="97.4" cy="701.6" r="3.45" fill="#fff" stroke="#00B0F0" stroke-width="1.5"/>
<circle cx="106.2" cy="701.5" r="3.45" fill="#fff" stroke="#00B0F0" stroke-width="1.5"/>
<circle cx="114.9" cy="633.2" r="3.45" fill="#fff" stroke="#00B0F0" stroke-width="1.5"/>
<circle cx="123.6" cy="680.9" r="3.45" fill="#fff" stroke="#00B0F0" stroke-width="1.5"/>
<circle cx="132.3" cy="706.5" r="3.45" fill="#fff" stroke="#00B0F0" stroke-width="1.5"/>
<circle cx="141.0" cy="708.7" r="3.45" fill="#fff" stroke="#00B0F0" stroke-width="1.5"/>
<circle cx="149.8" cy="752.4" r="3.45" fill="#fff" stroke="#00B0F0" stroke-width="1.5"/>
<circle cx="158.5" cy="703.5" r="3.45" fill="#fff" stroke="#00B0F0" stroke-width="1.5"/>
<circle cx="167.2" cy="650.0" r="3.45" fill="#fff" stroke="#00B0F0" stroke-width="1.5"/>
<circle cx="175.9" cy="672.9" r="3.45" fill="#fff" stroke="#00B0F0" stroke-width="1.5"/>
<circle cx="184.6" cy="674.5" r="3.45" fill="#fff" stroke="#00B0F0" stroke-width="1.5"/>
<circle cx="193.4" cy="694.9" r="3.45" fill="#fff" stroke="#00B0F0" stroke-width="1.5"/>
<circle cx="202.1" cy="691.3" r="3.45" fill="#fff" stroke="#00B0F0" stroke-width="1.5"/>
<circle cx="210.8" cy="693.3" r="3.45" fill="#fff" stroke="#00B0F0" stroke-width="1.5"/>
<circle cx="219.5" cy="671.0" r="3.45" fill="#fff" stroke="#00B0F0" stroke-width="1.5"/>
<circle cx="228.2" cy="693.0" r="3.45" fill="#fff" stroke="#00B0F0" stroke-width="1.5"/>
<circle cx="237.0" cy="696.2" r="3.45" fill="#fff" stroke="#00B0F0" stroke-width="1.5"/>
<circle cx="245.7" cy="649.2" r="3.45" fill="#fff" stroke="#00B0F0" stroke-width="1.5"/>
<circle cx="254.4" cy="651.6" r="3.45" fill="#fff" stroke="#00B0F0" stroke-width="1.5"/>
<circle cx="263.1" cy="663.4" r="3.45" fill="#fff" stroke="#00B0F0" stroke-width="1.5"/>
<circle cx="271.8" cy="657.5" r="3.45" fill="#fff" stroke="#00B0F0" stroke-width="1.5"/>
<circle cx="280.6" cy="694.6" r="3.45" fill="#fff" stroke="#00B0F0" stroke-width="1.5"/>
<circle cx="289.3" cy="658.2" r="3.45" fill="#fff" stroke="#00B0F0" stroke-width="1.5"/>
<circle cx="298.0" cy="630.2" r="3.45" fill="#fff" stroke="#00B0F0" stroke-width="1.5"/>
<circle cx="306.7" cy="603.7" r="3.45" fill="#fff" stroke="#00B0F0" stroke-width="1.5"/>
<circle cx="315.4" cy="621.8" r="3.45" fill="#fff" stroke="#00B0F0" stroke-width="1.5"/>
<circle cx="324.2" cy="651.3" r="3.45" fill="#fff" stroke="#00B0F0" stroke-width="1.5"/>
<circle cx="332.9" cy="646.0" r="3.45" fill="#fff" stroke="#00B0F0" stroke-width="1.5"/>
<circle cx="341.6" cy="654.4" r="3.45" fill="#fff" stroke="#00B0F0" stroke-width="1.5"/>
<circle cx="350.3" cy="638.6" r="3.45" fill="#fff" stroke="#00B0F0" stroke-width="1.5"/>
<circle cx="359.0" cy="610.0" r="3.45" fill="#fff" stroke="#00B0F0" stroke-width="1.5"/>
<circle cx="367.8" cy="641.7" r="3.45" fill="#fff" stroke="#00B0F0" stroke-width="1.5"/>
<circle cx="376.5" cy="611.9" r="3.45" fill="#fff" stroke="#00B0F0" stroke-width="1.5"/>
<circle cx="385.2" cy="610.2" r="3.45" fill="#fff" stroke="#00B0F0" stroke-width="1.5"/>
<circle cx="393.9" cy="570.6" r="3.45" fill="#fff" stroke="#00B0F0" stroke-width="1.5"/>
<circle cx="402.6" cy="615.0" r="3.45" fill="#fff" stroke="#00B0F0" stroke-width="1.5"/>
<circle cx="411.4" cy="606.4" r="3.45" fill="#fff" stroke="#00B0F0" stroke-width="1.5"/>
<circle cx="420.1" cy="639.4" r="3.45" fill="#fff" stroke="#00B0F0" stroke-width="1.5"/>
<circle cx="428.8" cy="639.8" r="3.45" fill="#fff" stroke="#00B0F0" stroke-width="1.5"/>
<circle cx="184.6" cy="698.7" r="4.1" fill="#00B0F0" fill-opacity="0.8"/>
<circle cx="245.7" cy="681.9" r="4.1" fill="#00B0F0" fill-opacity="0.8"/>
<circle cx="263.1" cy="707.7" r="4.1" fill="#00B0F0" fill-opacity="0.8"/>
<circle cx="306.7" cy="681.2" r="4.1" fill="#00B0F0" fill-opacity="0.8"/>
<circle cx="350.3" cy="690.2" r="4.1" fill="#00B0F0" fill-opacity="0.8"/>
<circle cx="367.8" cy="668.5" r="4.1" fill="#00B0F0" fill-opacity="0.8"/>
<circle cx="376.5" cy="669.2" r="4.1" fill="#00B0F0" fill-opacity="0.8"/>
<circle cx="385.2" cy="651.0" r="4.1" fill="#00B0F0" fill-opacity="0.8"/>
<circle cx="393.9" cy="610.0" r="4.1" fill="#00B0F0" fill-opacity="0.8"/>
<circle cx="402.6" cy="681.7" r="4.1" fill="#00B0F0" fill-opacity="0.8"/>
<circle cx="411.4" cy="628.1" r="4.1" fill="#00B0F0" fill-opacity="0.8"/>
<circle cx="420.1" cy="689.8" r="4.1" fill="#00B0F0" fill-opacity="0.8"/>
<circle cx="428.8" cy="709.9" r="4.1" fill="#00B0F0" fill-opacity="0.8"/>
<circle cx="193.4" cy="742.2" r="3.45" fill="#fff" stroke="#2E75B6" stroke-width="1.5"/>
<circle cx="254.4" cy="702.4" r="3.45" fill="#fff" stroke="#2E75B6" stroke-width="1.5"/>
<circle cx="280.6" cy="761.9" r="3.45" fill="#fff" stroke="#2E75B6" stroke-width="1.5"/>
<circle cx="289.3" cy="715.4" r="3.45" fill="#fff" stroke="#2E75B6" stroke-width="1.5"/>
<circle cx="298.0" cy="689.5" r="3.45" fill="#fff" stroke="#2E75B6" stroke-width="1.5"/>
<circle cx="306.7" cy="643.7" r="3.45" fill="#fff" stroke="#2E75B6" stroke-width="1.5"/>
<circle cx="315.4" cy="681.2" r="3.45" fill="#fff" stroke="#2E75B6" stroke-width="1.5"/>
<circle cx="324.2" cy="712.8" r="3.45" fill="#fff" stroke="#2E75B6" stroke-width="1.5"/>
<circle cx="332.9" cy="714.4" r="3.45" fill="#fff" stroke="#2E75B6" stroke-width="1.5"/>
<circle cx="341.6" cy="722.0" r="3.45" fill="#fff" stroke="#2E75B6" stroke-width="1.5"/>
<circle cx="350.3" cy="698.6" r="3.45" fill="#fff" stroke="#2E75B6" stroke-width="1.5"/>
<circle cx="359.0" cy="650.0" r="3.45" fill="#fff" stroke="#2E75B6" stroke-width="1.5"/>
<circle cx="367.8" cy="680.2" r="3.45" fill="#fff" stroke="#2E75B6" stroke-width="1.5"/>
<circle cx="376.5" cy="664.1" r="3.45" fill="#fff" stroke="#2E75B6" stroke-width="1.5"/>
<circle cx="385.2" cy="673.8" r="3.45" fill="#fff" stroke="#2E75B6" stroke-width="1.5"/>
<circle cx="393.9" cy="603.9" r="3.45" fill="#fff" stroke="#2E75B6" stroke-width="1.5"/>
<circle cx="402.6" cy="653.4" r="3.45" fill="#fff" stroke="#2E75B6" stroke-width="1.5"/>
<circle cx="411.4" cy="638.2" r="3.45" fill="#fff" stroke="#2E75B6" stroke-width="1.5"/>
<circle cx="420.1" cy="697.4" r="3.45" fill="#fff" stroke="#2E75B6" stroke-width="1.5"/>
<circle cx="428.8" cy="699.1" r="3.45" fill="#fff" stroke="#2E75B6" stroke-width="1.5"/>
<circle cx="263.1" cy="806.2" r="4.1" fill="#2E75B6" fill-opacity="0.96"/>
<circle cx="298.0" cy="737.4" r="4.1" fill="#2E75B6" fill-opacity="0.96"/>
<circle cx="306.7" cy="671.0" r="4.1" fill="#2E75B6" fill-opacity="0.96"/>
<circle cx="315.4" cy="700.5" r="4.1" fill="#2E75B6" fill-opacity="0.96"/>
<circle cx="341.6" cy="816.9" r="4.1" fill="#2E75B6" fill-opacity="0.96"/>
<circle cx="350.3" cy="768.7" r="4.1" fill="#2E75B6" fill-opacity="0.96"/>
<circle cx="367.8" cy="694.1" r="4.1" fill="#2E75B6" fill-opacity="0.96"/>
<circle cx="376.5" cy="707.5" r="4.1" fill="#2E75B6" fill-opacity="0.96"/>
<circle cx="385.2" cy="681.9" r="4.1" fill="#2E75B6" fill-opacity="0.96"/>
<circle cx="393.9" cy="619.6" r="4.1" fill="#2E75B6" fill-opacity="0.96"/>
<circle cx="402.6" cy="692.2" r="4.1" fill="#2E75B6" fill-opacity="0.96"/>
<circle cx="411.4" cy="637.0" r="4.1" fill="#2E75B6" fill-opacity="0.96"/>
<circle cx="420.1" cy="738.6" r="4.1" fill="#2E75B6" fill-opacity="0.96"/>
<circle cx="359.0" cy="642.7" r="3.45" fill="#fff" stroke="#0F2A5E" stroke-width="1.5"/>
<circle cx="367.8" cy="697.7" r="3.45" fill="#fff" stroke="#0F2A5E" stroke-width="1.5"/>
<circle cx="376.5" cy="701.6" r="3.45" fill="#fff" stroke="#0F2A5E" stroke-width="1.5"/>
<circle cx="385.2" cy="686.0" r="3.45" fill="#fff" stroke="#0F2A5E" stroke-width="1.5"/>
<circle cx="393.9" cy="615.7" r="3.45" fill="#fff" stroke="#0F2A5E" stroke-width="1.5"/>
<circle cx="402.6" cy="676.7" r="3.45" fill="#fff" stroke="#0F2A5E" stroke-width="1.5"/>
<circle cx="411.4" cy="660.1" r="3.45" fill="#fff" stroke="#0F2A5E" stroke-width="1.5"/>
<circle cx="420.1" cy="720.9" r="3.45" fill="#fff" stroke="#0F2A5E" stroke-width="1.5"/>
<circle cx="428.8" cy="707.5" r="3.45" fill="#fff" stroke="#0F2A5E" stroke-width="1.5"/>
<circle cx="359.0" cy="662.2" r="4.1" fill="#1F3864" fill-opacity="0.9"/>
<circle cx="367.8" cy="708.2" r="4.1" fill="#1F3864" fill-opacity="0.9"/>
<circle cx="376.5" cy="722.6" r="4.1" fill="#1F3864" fill-opacity="0.9"/>
<circle cx="385.2" cy="695.6" r="4.1" fill="#1F3864" fill-opacity="0.9"/>
<circle cx="393.9" cy="635.4" r="4.1" fill="#1F3864" fill-opacity="0.9"/>
<circle cx="402.6" cy="696.2" r="4.1" fill="#1F3864" fill-opacity="0.9"/>
<circle cx="411.4" cy="675.6" r="4.1" fill="#1F3864" fill-opacity="0.9"/>
<circle cx="420.1" cy="741.4" r="4.1" fill="#1F3864" fill-opacity="0.9"/>
<circle cx="428.8" cy="722.5" r="4.1" fill="#1F3864" fill-opacity="0.9"/>
<rect x="85.2" y="850.1" width="7.0" height="7.0" fill="none" stroke="#A0A0A0" stroke-width="1.5"/>
<rect x="93.9" y="850.3" width="7.0" height="7.0" fill="none" stroke="#A0A0A0" stroke-width="1.5"/>
<rect x="102.7" y="830.5" width="7.0" height="7.0" fill="none" stroke="#A0A0A0" stroke-width="1.5"/>
<rect x="111.4" y="771.0" width="7.0" height="7.0" fill="none" stroke="#A0A0A0" stroke-width="1.5"/>
<rect x="120.1" y="800.8" width="7.0" height="7.0" fill="none" stroke="#A0A0A0" stroke-width="1.5"/>
<rect x="128.8" y="838.0" width="7.0" height="7.0" fill="none" stroke="#A0A0A0" stroke-width="1.5"/>
<rect x="146.3" y="889.5" width="7.0" height="7.0" fill="none" stroke="#A0A0A0" stroke-width="1.5"/>
<rect x="155.0" y="852.3" width="7.0" height="7.0" fill="none" stroke="#A0A0A0" stroke-width="1.5"/>
<rect x="163.7" y="803.5" width="7.0" height="7.0" fill="none" stroke="#A0A0A0" stroke-width="1.5"/>
<rect x="172.4" y="838.8" width="7.0" height="7.0" fill="none" stroke="#A0A0A0" stroke-width="1.5"/>
<rect x="181.1" y="841.5" width="7.0" height="7.0" fill="none" stroke="#A0A0A0" stroke-width="1.5"/>
<rect x="189.9" y="835.8" width="7.0" height="7.0" fill="none" stroke="#A0A0A0" stroke-width="1.5"/>
<rect x="198.6" y="832.5" width="7.0" height="7.0" fill="none" stroke="#A0A0A0" stroke-width="1.5"/>
<rect x="84.5" y="849.8" width="8.5" height="8.5" fill="#8C8C8C" fill-opacity="0.8"/>
<rect x="93.2" y="856.0" width="8.5" height="8.5" fill="#8C8C8C" fill-opacity="0.8"/>
<rect x="101.9" y="826.8" width="8.5" height="8.5" fill="#8C8C8C" fill-opacity="0.8"/>
<rect x="110.6" y="749.6" width="8.5" height="8.5" fill="#8C8C8C" fill-opacity="0.8"/>
<rect x="119.3" y="795.2" width="8.5" height="8.5" fill="#8C8C8C" fill-opacity="0.8"/>
<rect x="128.1" y="830.0" width="8.5" height="8.5" fill="#8C8C8C" fill-opacity="0.8"/>
<rect x="136.8" y="862.0" width="8.5" height="8.5" fill="#8C8C8C" fill-opacity="0.8"/>
<rect x="145.5" y="887.2" width="8.5" height="8.5" fill="#8C8C8C" fill-opacity="0.8"/>
<rect x="154.2" y="845.8" width="8.5" height="8.5" fill="#8C8C8C" fill-opacity="0.8"/>
<rect x="162.9" y="794.8" width="8.5" height="8.5" fill="#8C8C8C" fill-opacity="0.8"/>
<rect x="85.2" y="847.7" width="7.0" height="7.0" fill="#fff" stroke="#404040" stroke-width="1.5"/>
<rect x="93.9" y="864.5" width="7.0" height="7.0" fill="#fff" stroke="#404040" stroke-width="1.5"/>
<rect x="102.7" y="838.3" width="7.0" height="7.0" fill="#fff" stroke="#404040" stroke-width="1.5"/>
<rect x="111.4" y="773.4" width="7.0" height="7.0" fill="#fff" stroke="#404040" stroke-width="1.5"/>
<rect x="120.1" y="807.4" width="7.0" height="7.0" fill="#fff" stroke="#404040" stroke-width="1.5"/>
<rect x="128.8" y="845.6" width="7.0" height="7.0" fill="#fff" stroke="#404040" stroke-width="1.5"/>
<rect x="137.5" y="872.5" width="7.0" height="7.0" fill="#fff" stroke="#404040" stroke-width="1.5"/>
<rect x="146.3" y="880.1" width="7.0" height="7.0" fill="#fff" stroke="#404040" stroke-width="1.5"/>
<rect x="155.0" y="859.0" width="7.0" height="7.0" fill="#fff" stroke="#404040" stroke-width="1.5"/>
<rect x="163.7" y="817.8" width="7.0" height="7.0" fill="#fff" stroke="#404040" stroke-width="1.5"/>
<rect x="172.4" y="831.2" width="7.0" height="7.0" fill="#fff" stroke="#404040" stroke-width="1.5"/>
<rect x="181.1" y="847.4" width="7.0" height="7.0" fill="#fff" stroke="#404040" stroke-width="1.5"/>
<rect x="189.9" y="824.1" width="7.0" height="7.0" fill="#fff" stroke="#404040" stroke-width="1.5"/>
<rect x="198.6" y="840.5" width="7.0" height="7.0" fill="#fff" stroke="#404040" stroke-width="1.5"/>
<rect x="207.3" y="815.2" width="7.0" height="7.0" fill="#fff" stroke="#404040" stroke-width="1.5"/>
<rect x="216.0" y="824.0" width="7.0" height="7.0" fill="#fff" stroke="#404040" stroke-width="1.5"/>
<rect x="224.7" y="836.9" width="7.0" height="7.0" fill="#fff" stroke="#404040" stroke-width="1.5"/>
<rect x="233.5" y="849.0" width="7.0" height="7.0" fill="#fff" stroke="#404040" stroke-width="1.5"/>
<rect x="242.2" y="813.3" width="7.0" height="7.0" fill="#fff" stroke="#404040" stroke-width="1.5"/>
<rect x="250.9" y="784.5" width="7.0" height="7.0" fill="#fff" stroke="#404040" stroke-width="1.5"/>
<rect x="294.5" y="779.1" width="7.0" height="7.0" fill="#fff" stroke="#404040" stroke-width="1.5"/>
<rect x="303.2" y="757.7" width="7.0" height="7.0" fill="#fff" stroke="#404040" stroke-width="1.5"/>
<rect x="311.9" y="764.3" width="7.0" height="7.0" fill="#fff" stroke="#404040" stroke-width="1.5"/>
<rect x="320.7" y="783.3" width="7.0" height="7.0" fill="#fff" stroke="#404040" stroke-width="1.5"/>
<rect x="329.4" y="771.8" width="7.0" height="7.0" fill="#fff" stroke="#404040" stroke-width="1.5"/>
<rect x="338.1" y="783.3" width="7.0" height="7.0" fill="#fff" stroke="#404040" stroke-width="1.5"/>
<rect x="346.8" y="739.0" width="7.0" height="7.0" fill="#fff" stroke="#404040" stroke-width="1.5"/>
<rect x="355.5" y="686.7" width="7.0" height="7.0" fill="#fff" stroke="#404040" stroke-width="1.5"/>
<rect x="364.3" y="774.9" width="7.0" height="7.0" fill="#fff" stroke="#404040" stroke-width="1.5"/>
<rect x="373.0" y="767.4" width="7.0" height="7.0" fill="#fff" stroke="#404040" stroke-width="1.5"/>
<rect x="381.7" y="744.9" width="7.0" height="7.0" fill="#fff" stroke="#404040" stroke-width="1.5"/>
<rect x="390.4" y="682.9" width="7.0" height="7.0" fill="#fff" stroke="#404040" stroke-width="1.5"/>
<rect x="399.1" y="753.0" width="7.0" height="7.0" fill="#fff" stroke="#404040" stroke-width="1.5"/>
<rect x="407.9" y="749.4" width="7.0" height="7.0" fill="#fff" stroke="#404040" stroke-width="1.5"/>
<rect x="416.6" y="774.9" width="7.0" height="7.0" fill="#fff" stroke="#404040" stroke-width="1.5"/>
<rect x="425.3" y="737.1" width="7.0" height="7.0" fill="#fff" stroke="#404040" stroke-width="1.5"/>
<rect x="84.5" y="822.8" width="8.5" height="8.5" fill="#555555" fill-opacity="0.88"/>
<rect x="93.2" y="828.5" width="8.5" height="8.5" fill="#555555" fill-opacity="0.88"/>
<rect x="101.9" y="806.6" width="8.5" height="8.5" fill="#555555" fill-opacity="0.88"/>
<rect x="110.6" y="714.0" width="8.5" height="8.5" fill="#555555" fill-opacity="0.88"/>
<rect x="119.3" y="768.6" width="8.5" height="8.5" fill="#555555" fill-opacity="0.88"/>
<rect x="128.1" y="801.5" width="8.5" height="8.5" fill="#555555" fill-opacity="0.88"/>
<rect x="136.8" y="833.5" width="8.5" height="8.5" fill="#555555" fill-opacity="0.88"/>
<rect x="145.5" y="861.5" width="8.5" height="8.5" fill="#555555" fill-opacity="0.88"/>
<rect x="154.2" y="821.5" width="8.5" height="8.5" fill="#555555" fill-opacity="0.88"/>
<rect x="162.9" y="758.4" width="8.5" height="8.5" fill="#555555" fill-opacity="0.88"/>
<rect x="171.7" y="799.5" width="8.5" height="8.5" fill="#555555" fill-opacity="0.88"/>
<rect x="180.4" y="807.0" width="8.5" height="8.5" fill="#555555" fill-opacity="0.88"/>
<rect x="189.1" y="805.2" width="8.5" height="8.5" fill="#555555" fill-opacity="0.88"/>
<path d="M275.6 1132.0L433.8 1090.9" stroke="#7FDBFA" stroke-width="2.2"/>
<path d="M276.3 1191.8L433.8 1139.0" stroke="#00B0F0" stroke-width="2.2"/>
<path d="M275.6 1204.6L433.8 1136.3" stroke="#0070C0" stroke-width="2.2"/>
<path d="M275.6 1258.5L433.8 1157.6" stroke="#0B5AA0" stroke-width="2.2"/>
<circle cx="92.7" cy="1198.4" r="3.85" fill="#84DCFB"/>
<circle cx="101.5" cy="1194.5" r="3.85" fill="#84DCFB"/>
<circle cx="110.2" cy="1176.1" r="3.85" fill="#84DCFB"/>
<circle cx="119.0" cy="1118.6" r="3.85" fill="#84DCFB"/>
<circle cx="127.7" cy="1161.0" r="3.85" fill="#84DCFB"/>
<circle cx="136.4" cy="1180.3" r="3.85" fill="#84DCFB"/>
<circle cx="145.2" cy="1200.8" r="3.85" fill="#84DCFB"/>
<circle cx="153.9" cy="1235.8" r="3.85" fill="#84DCFB"/>
<circle cx="162.7" cy="1181.1" r="3.85" fill="#84DCFB"/>
<circle cx="171.4" cy="1115.7" r="3.85" fill="#84DCFB"/>
<circle cx="180.1" cy="1141.0" r="3.85" fill="#84DCFB"/>
<circle cx="188.9" cy="1151.4" r="3.85" fill="#84DCFB"/>
<circle cx="197.6" cy="1177.8" r="3.85" fill="#84DCFB"/>
<circle cx="206.4" cy="1161.3" r="3.85" fill="#84DCFB"/>
<circle cx="215.1" cy="1177.8" r="3.85" fill="#84DCFB"/>
<circle cx="223.8" cy="1154.6" r="3.85" fill="#84DCFB"/>
<circle cx="232.6" cy="1180.9" r="3.85" fill="#84DCFB"/>
<circle cx="241.3" cy="1176.1" r="3.85" fill="#84DCFB"/>
<circle cx="250.1" cy="1114.0" r="3.85" fill="#84DCFB"/>
<circle cx="258.8" cy="1121.8" r="3.85" fill="#84DCFB"/>
<circle cx="267.5" cy="1142.8" r="3.85" fill="#84DCFB"/>
<circle cx="276.3" cy="1146.1" r="3.85" fill="#84DCFB"/>
<circle cx="285.0" cy="1184.9" r="3.85" fill="#84DCFB"/>
<circle cx="293.8" cy="1138.4" r="3.85" fill="#84DCFB"/>
<circle cx="302.5" cy="1102.8" r="3.85" fill="#84DCFB"/>
<circle cx="311.2" cy="1080.0" r="3.85" fill="#84DCFB"/>
<circle cx="320.0" cy="1095.3" r="3.85" fill="#84DCFB"/>
<circle cx="328.7" cy="1129.2" r="3.85" fill="#84DCFB"/>
<circle cx="337.5" cy="1118.3" r="3.85" fill="#84DCFB"/>
<circle cx="346.2" cy="1123.2" r="3.85" fill="#84DCFB"/>
<circle cx="354.9" cy="1122.7" r="3.85" fill="#84DCFB"/>
<circle cx="363.7" cy="1075.2" r="3.85" fill="#84DCFB"/>
<circle cx="372.4" cy="1110.4" r="3.85" fill="#84DCFB"/>
<circle cx="381.2" cy="1100.3" r="3.85" fill="#84DCFB"/>
<circle cx="389.9" cy="1103.5" r="3.85" fill="#84DCFB"/>
<circle cx="398.6" cy="1051.0" r="3.85" fill="#84DCFB"/>
<circle cx="407.4" cy="1099.5" r="3.85" fill="#84DCFB"/>
<circle cx="416.1" cy="1082.8" r="3.85" fill="#84DCFB"/>
<circle cx="424.9" cy="1126.2" r="3.85" fill="#84DCFB"/>
<circle cx="433.6" cy="1128.4" r="3.85" fill="#84DCFB"/>
<circle cx="188.9" cy="1183.7" r="3.85" fill="#00B4F0"/>
<circle cx="197.6" cy="1202.6" r="3.85" fill="#00B4F0"/>
<circle cx="206.4" cy="1205.6" r="3.85" fill="#00B4F0"/>
<circle cx="215.1" cy="1229.9" r="3.85" fill="#00B4F0"/>
<circle cx="223.8" cy="1195.4" r="3.85" fill="#00B4F0"/>
<circle cx="232.6" cy="1218.1" r="3.85" fill="#00B4F0"/>
<circle cx="241.3" cy="1217.4" r="3.85" fill="#00B4F0"/>
<circle cx="250.1" cy="1166.1" r="3.85" fill="#00B4F0"/>
<circle cx="267.5" cy="1190.1" r="3.85" fill="#00B4F0"/>
<circle cx="276.3" cy="1192.1" r="3.85" fill="#00B4F0"/>
<circle cx="285.0" cy="1221.8" r="3.85" fill="#00B4F0"/>
<circle cx="293.8" cy="1180.4" r="3.85" fill="#00B4F0"/>
<circle cx="302.5" cy="1187.5" r="3.85" fill="#00B4F0"/>
<circle cx="311.2" cy="1166.0" r="3.85" fill="#00B4F0"/>
<circle cx="320.0" cy="1171.2" r="3.85" fill="#00B4F0"/>
<circle cx="328.7" cy="1180.7" r="3.85" fill="#00B4F0"/>
<circle cx="337.5" cy="1180.8" r="3.85" fill="#00B4F0"/>
<circle cx="346.2" cy="1186.0" r="3.85" fill="#00B4F0"/>
<circle cx="354.9" cy="1174.2" r="3.85" fill="#00B4F0"/>
<circle cx="363.7" cy="1124.6" r="3.85" fill="#00B4F0"/>
<circle cx="372.4" cy="1152.2" r="3.85" fill="#00B4F0"/>
<circle cx="381.2" cy="1153.8" r="3.85" fill="#00B4F0"/>
<circle cx="389.9" cy="1134.7" r="3.85" fill="#00B4F0"/>
<circle cx="398.6" cy="1093.9" r="3.85" fill="#00B4F0"/>
<circle cx="407.4" cy="1165.6" r="3.85" fill="#00B4F0"/>
<circle cx="416.1" cy="1112.2" r="3.85" fill="#00B4F0"/>
<circle cx="424.9" cy="1173.9" r="3.85" fill="#00B4F0"/>
<circle cx="433.6" cy="1192.6" r="3.85" fill="#00B4F0"/>
<circle cx="188.9" cy="1212.2" r="3.45" fill="#fff" stroke="#0070C0" stroke-width="1.4"/>
<circle cx="197.6" cy="1226.6" r="3.45" fill="#fff" stroke="#0070C0" stroke-width="1.4"/>
<circle cx="206.4" cy="1211.1" r="3.45" fill="#fff" stroke="#0070C0" stroke-width="1.4"/>
<circle cx="215.1" cy="1223.0" r="3.45" fill="#fff" stroke="#0070C0" stroke-width="1.4"/>
<circle cx="223.8" cy="1213.8" r="3.45" fill="#fff" stroke="#0070C0" stroke-width="1.4"/>
<circle cx="232.6" cy="1238.7" r="3.45" fill="#fff" stroke="#0070C0" stroke-width="1.4"/>
<circle cx="241.3" cy="1242.4" r="3.45" fill="#fff" stroke="#0070C0" stroke-width="1.4"/>
<circle cx="250.1" cy="1185.1" r="3.45" fill="#fff" stroke="#0070C0" stroke-width="1.4"/>
<circle cx="258.8" cy="1186.6" r="3.45" fill="#fff" stroke="#0070C0" stroke-width="1.4"/>
<circle cx="267.5" cy="1197.1" r="3.45" fill="#fff" stroke="#0070C0" stroke-width="1.4"/>
<circle cx="276.3" cy="1227.4" r="3.45" fill="#fff" stroke="#0070C0" stroke-width="1.4"/>
<circle cx="285.0" cy="1246.1" r="3.45" fill="#fff" stroke="#0070C0" stroke-width="1.4"/>
<circle cx="293.8" cy="1198.8" r="3.45" fill="#fff" stroke="#0070C0" stroke-width="1.4"/>
<circle cx="302.5" cy="1172.8" r="3.45" fill="#fff" stroke="#0070C0" stroke-width="1.4"/>
<circle cx="311.2" cy="1127.7" r="3.45" fill="#fff" stroke="#0070C0" stroke-width="1.4"/>
<circle cx="320.0" cy="1164.9" r="3.45" fill="#fff" stroke="#0070C0" stroke-width="1.4"/>
<circle cx="328.7" cy="1196.7" r="3.45" fill="#fff" stroke="#0070C0" stroke-width="1.4"/>
<circle cx="337.5" cy="1198.5" r="3.45" fill="#fff" stroke="#0070C0" stroke-width="1.4"/>
<circle cx="346.2" cy="1206.4" r="3.45" fill="#fff" stroke="#0070C0" stroke-width="1.4"/>
<circle cx="354.9" cy="1181.8" r="3.45" fill="#fff" stroke="#0070C0" stroke-width="1.4"/>
<circle cx="363.7" cy="1134.1" r="3.45" fill="#fff" stroke="#0070C0" stroke-width="1.4"/>
<circle cx="372.4" cy="1164.3" r="3.45" fill="#fff" stroke="#0070C0" stroke-width="1.4"/>
<circle cx="381.2" cy="1147.9" r="3.45" fill="#fff" stroke="#0070C0" stroke-width="1.4"/>
<circle cx="389.9" cy="1158.4" r="3.45" fill="#fff" stroke="#0070C0" stroke-width="1.4"/>
<circle cx="398.6" cy="1087.6" r="3.45" fill="#fff" stroke="#0070C0" stroke-width="1.4"/>
<circle cx="407.4" cy="1137.2" r="3.45" fill="#fff" stroke="#0070C0" stroke-width="1.4"/>
<circle cx="416.1" cy="1123.1" r="3.45" fill="#fff" stroke="#0070C0" stroke-width="1.4"/>
<circle cx="424.9" cy="1183.0" r="3.45" fill="#fff" stroke="#0070C0" stroke-width="1.4"/>
<circle cx="433.6" cy="1184.4" r="3.45" fill="#fff" stroke="#0070C0" stroke-width="1.4"/>
<circle cx="276.3" cy="1262.0" r="3.85" fill="#0B5AA0"/>
<circle cx="285.0" cy="1304.1" r="3.85" fill="#0B5AA0"/>
<circle cx="293.8" cy="1268.6" r="3.85" fill="#0B5AA0"/>
<circle cx="302.5" cy="1220.8" r="3.85" fill="#0B5AA0"/>
<circle cx="311.2" cy="1162.0" r="3.85" fill="#0B5AA0"/>
<circle cx="320.0" cy="1184.9" r="3.85" fill="#0B5AA0"/>
<circle cx="328.7" cy="1248.6" r="3.85" fill="#0B5AA0"/>
<circle cx="337.5" cy="1242.6" r="3.85" fill="#0B5AA0"/>
<circle cx="346.2" cy="1301.4" r="3.85" fill="#0B5AA0"/>
<circle cx="354.9" cy="1253.4" r="3.85" fill="#0B5AA0"/>
<circle cx="363.7" cy="1128.6" r="3.85" fill="#0B5AA0"/>
<circle cx="372.4" cy="1178.8" r="3.85" fill="#0B5AA0"/>
<circle cx="381.2" cy="1191.1" r="3.85" fill="#0B5AA0"/>
<circle cx="389.9" cy="1167.3" r="3.85" fill="#0B5AA0"/>
<circle cx="398.6" cy="1102.5" r="3.85" fill="#0B5AA0"/>
<circle cx="407.4" cy="1178.0" r="3.85" fill="#0B5AA0"/>
<circle cx="416.1" cy="1121.0" r="3.85" fill="#0B5AA0"/>
<circle cx="424.9" cy="1223.7" r="3.85" fill="#0B5AA0"/>
<circle cx="433.6" cy="1214.5" r="3.85" fill="#0B5AA0"/>
<text transform="translate(101.2 119.7) scale(1 1.04)" fill="#00B0F0" font-size="22.6">Svalbard Airport</text>
<text transform="translate(90.8 415) scale(1 1.0)" fill="#595959" font-size="22.3">Krenkel Observatory</text>
<circle cx="471.0" cy="540.0" r="4.1" fill="#C7DCF0"/>
<text transform="translate(482 547.30) scale(1 1.04)" font-size="22.45">Ny-Ålesund</text>
<circle cx="471.0" cy="570.2" r="3.45" fill="#fff" stroke="#8EDDFA" stroke-width="1.5"/>
<text transform="translate(482 577.55) scale(1 1.04)" font-size="22.45">Sørkappøya</text>
<circle cx="471.0" cy="600.5" r="4.1" fill="#A0E6FE"/>
<text transform="translate(482 607.80) scale(1 1.04)" font-size="22.45">Hopen</text>
<circle cx="471.0" cy="630.8" r="3.45" fill="#fff" stroke="#00B0F0" stroke-width="1.5"/>
<text transform="translate(482 638.05) scale(1 1.04)" font-size="22.45">Svalbard Airport</text>
<circle cx="471.0" cy="661.0" r="4.1" fill="#00B0F0" fill-opacity="0.8"/>
<text transform="translate(482 668.30) scale(1 1.04)" font-size="22.45">Verlegenhuken</text>
<circle cx="471.0" cy="691.2" r="3.45" fill="#fff" stroke="#2E75B6" stroke-width="1.5"/>
<text transform="translate(482 698.55) scale(1 1.04)" font-size="22.45">Edgeøya</text>
<circle cx="471.0" cy="721.5" r="4.1" fill="#2E75B6" fill-opacity="0.96"/>
<text transform="translate(482 728.80) scale(1 1.04)" font-size="22.45">Karl XII-øya</text>
<circle cx="471.0" cy="751.8" r="3.45" fill="#fff" stroke="#0F2A5E" stroke-width="1.5"/>
<text transform="translate(482 759.05) scale(1 1.04)" font-size="22.45">Kongsøya</text>
<circle cx="471.0" cy="782.0" r="4.1" fill="#1F3864" fill-opacity="0.9"/>
<text transform="translate(482 789.30) scale(1 1.04)" font-size="22.45">Kvitøya</text>
<rect x="467.5" y="808.8" width="7.0" height="7.0" fill="#fff" stroke="#A0A0A0" stroke-width="1.5"/>
<text transform="translate(482 819.55) scale(1 1.04)" font-size="22.45">Rudolf Island</text>
<rect x="466.8" y="838.2" width="8.5" height="8.5" fill="#8C8C8C" fill-opacity="0.8"/>
<text transform="translate(482 849.80) scale(1 1.04)" font-size="22.45">Nagurskaya</text>
<rect x="467.5" y="869.2" width="7.0" height="7.0" fill="#fff" stroke="#404040" stroke-width="1.5"/>
<text transform="translate(482 880.05) scale(1 1.04)" font-size="22.45">Krenkel Observatory</text>
<rect x="466.8" y="898.8" width="8.5" height="8.5" fill="#555555" fill-opacity="0.88"/>
<text transform="translate(482 910.30) scale(1 1.04)" font-size="22.45">Ostrov Victoria</text>
<circle cx="479.6" cy="1027.4" r="3.85" fill="#84DCFB"/>
<text transform="translate(496.5 1034.70) scale(1 1.04)" font-size="22.5">Hopen</text>
<circle cx="479.6" cy="1067.8" r="3.85" fill="#00B4F0"/>
<text transform="translate(496.5 1075.10) scale(1 1.04)" font-size="22.5">Verlegenhuken</text>
<circle cx="479.6" cy="1108.2" r="3.45" fill="#fff" stroke="#0070C0" stroke-width="1.4"/>
<text transform="translate(496.5 1115.50) scale(1 1.04)" font-size="22.5">Edgeøya</text>
<circle cx="479.6" cy="1148.6" r="3.85" fill="#0B5AA0"/>
<text transform="translate(496.5 1155.90) scale(1 1.04)" font-size="22.5">Karl XII-øya</text>
</g></svg>
</body></html>
